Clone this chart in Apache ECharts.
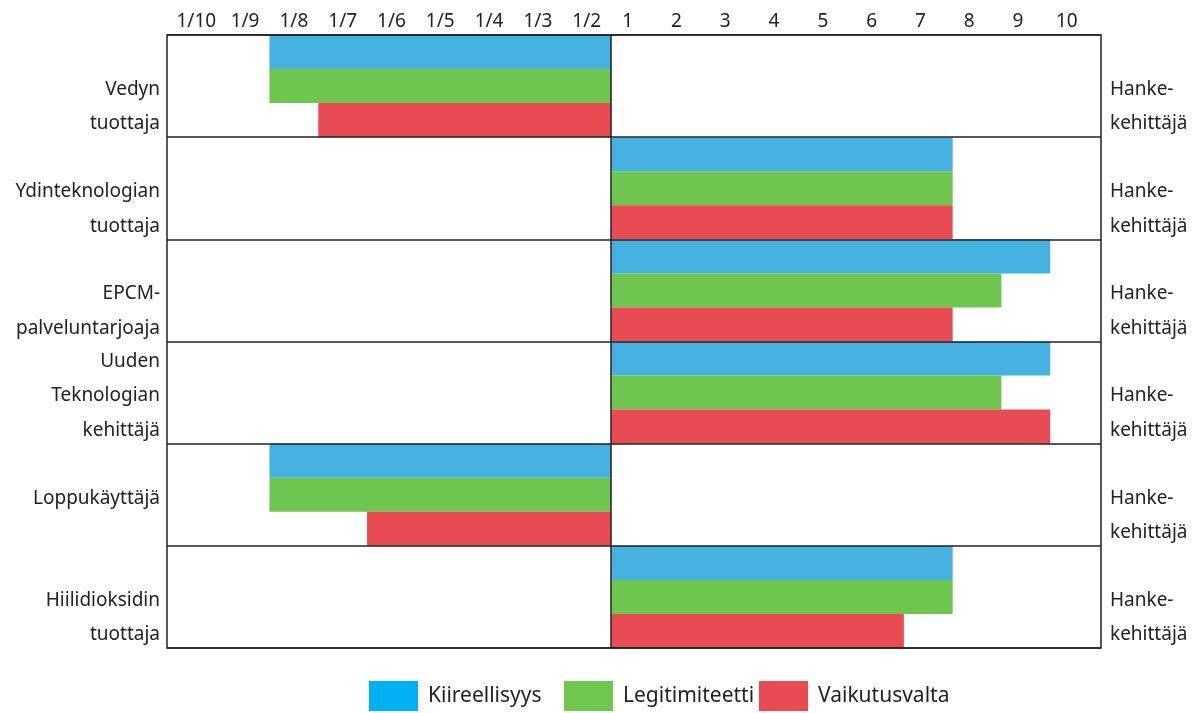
<!DOCTYPE html>
<html>
<head>
<meta charset="utf-8">
<script src="https://cdn.jsdelivr.net/npm/echarts@6/dist/echarts.min.js"></script>
<style>
html,body{margin:0;padding:0;background:#fff;}
#chart{width:1194px;height:713px;}
</style>
</head>
<body>
<div id="chart"></div>
<script>
// ---- data ----
const categories = ['Vedyn\ntuottaja', 'Ydinteknologian\ntuottaja', 'EPCM-\npalveluntarjoaja', 'Uuden\nTeknologian\nkehittäjä', 'Loppukäyttäjä', 'Hiilidioksidin\ntuottaja'];
const rightLabels = ['Hanke-\nkehittäjä', 'Hanke-\nkehittäjä', 'Hanke-\nkehittäjä', 'Hanke-\nkehittäjä', 'Hanke-\nkehittäjä', 'Hanke-\nkehittäjä'];
const seriesNames = ['Kiireellisyys', 'Legitimiteetti', 'Vaikutusvalta'];
// negative values: steps toward 1/n on the left scale (−7 = 1/8), positive values on the 1..10 scale
const kiireellisyys = [-7, 7, 9, 9, -7, 7];
const legitimiteetti = [-7, 7, 8, 8, -7, 7];
const vaikutusvalta = [-6, 7, 7, 9, -5, 6];
const leftTickLabels = ['1/10', '1/9', '1/8', '1/7', '1/6', '1/5', '1/4', '1/3', '1/2'];
const rightTickLabels = ['1', '2', '3', '4', '5', '6', '7', '8', '9', '10'];

// ---- styles ----
const barColors = ['#45B1E0', '#6EC651', '#E84B52'];
const legendColors = ['#00B0F0', '#6EC84F', '#E84B52'];
const legendLefts = [369, 564, 759];
const txt = '#222222';
const font = 'Noto Sans';
const X_MIN = -9.1, X_MAX = 10.04;
const LINE_H = 34.5;
const SHIFT = 3.5;

// tick label placement on the top axis
const tickVals = [];
const tickText = [];
leftTickLabels.forEach((t, i) => { tickVals.push(i - (leftTickLabels.length - 0.5)); tickText.push(t); });
rightTickLabels.forEach((t, j) => { tickVals.push(j + 0.34); tickText.push(t); });
function tickFormatter(v) {
  let best = 0, bd = Infinity;
  tickVals.forEach((tv, k) => { const d = Math.abs(tv - v); if (d < bd) { bd = d; best = k; } });
  return tickText[best];
}
// multi-line category labels: a spacer line keeps the first (or middle) line near the band centre
function catFormatter(v) {
  const lines = v.split('\n');
  const n = lines.length;
  const sp = n % 2 === 0 ? 's2' : 's1';
  return '{' + sp + '| }\n' + lines.map(l => '{t|' + l + '}').join('\n');
}
function catRich() {
  return {
    t: {fontSize: 19, lineHeight: LINE_H, color: txt, fontFamily: font},
    s1: {fontSize: 2, lineHeight: 2 * SHIFT},
    s2: {fontSize: 2, lineHeight: LINE_H + 2 * SHIFT}
  };
}

const chart = echarts.init(document.getElementById('chart'), null, {renderer: 'canvas'});
const seriesData = [kiireellisyys, legitimiteetti, vaikutusvalta];
const series = seriesNames.map((name, i) => ({
  name: name,
  type: 'bar',
  xAxisIndex: 0,
  yAxisIndex: 0,
  data: seriesData[i],
  barGap: '0%',
  barCategoryGap: '0%',
  itemStyle: {color: barColors[i]},
  silent: true
}));
series[2].markLine = {
  silent: true,
  symbol: ['none', 'none'],
  label: {show: false},
  lineStyle: {color: txt, width: 1.5, type: 'solid'},
  data: [{xAxis: 0}]
};

const catLabel = {formatter: catFormatter, rich: catRich(), fontSize: 19, color: txt, fontFamily: font,
  interval: 0, showMinLabel: true, showMaxLabel: true, hideOverlap: false};

chart.setOption({
  animation: false,
  backgroundColor: '#fff',
  textStyle: {fontFamily: font, color: txt},
  grid: {left: 167, right: 93, top: 35, bottom: 65, show: true, borderColor: txt, borderWidth: 1.5, z: 5, containLabel: false},
  xAxis: [
    {type: 'value', min: X_MIN, max: X_MAX, show: false},
    {type: 'value', position: 'top', min: X_MIN, max: X_MAX,
     axisLine: {show: false}, axisTick: {show: false}, splitLine: {show: false},
     axisLabel: {customValues: tickVals, formatter: tickFormatter, fontSize: 19, color: txt, fontFamily: font, margin: 4}}
  ],
  yAxis: [
    {type: 'category', data: categories, inverse: true, position: 'left', z: 5,
     axisLine: {show: false}, axisTick: {show: false},
     splitLine: {show: true, interval: 0, lineStyle: {color: txt, width: 1.5}},
     axisLabel: Object.assign({}, catLabel, {margin: 7, align: 'right'})},
    {type: 'category', data: rightLabels, inverse: true, position: 'right',
     axisLine: {show: false}, axisTick: {show: false}, splitLine: {show: false},
     axisLabel: Object.assign({}, catLabel, {margin: 9, align: 'left'})}
  ],
  legend: seriesNames.map((n, i) => ({
    left: legendLefts[i], top: 681, padding: 0,
    itemWidth: 49, itemHeight: 30, icon: 'rect',
    textStyle: {fontSize: 21, color: txt, fontFamily: font, padding: [0, 0, 0, 5]},
    data: [{name: n, itemStyle: {color: legendColors[i]}}]
  })),
  series: series
});
</script>
</body>
</html>
